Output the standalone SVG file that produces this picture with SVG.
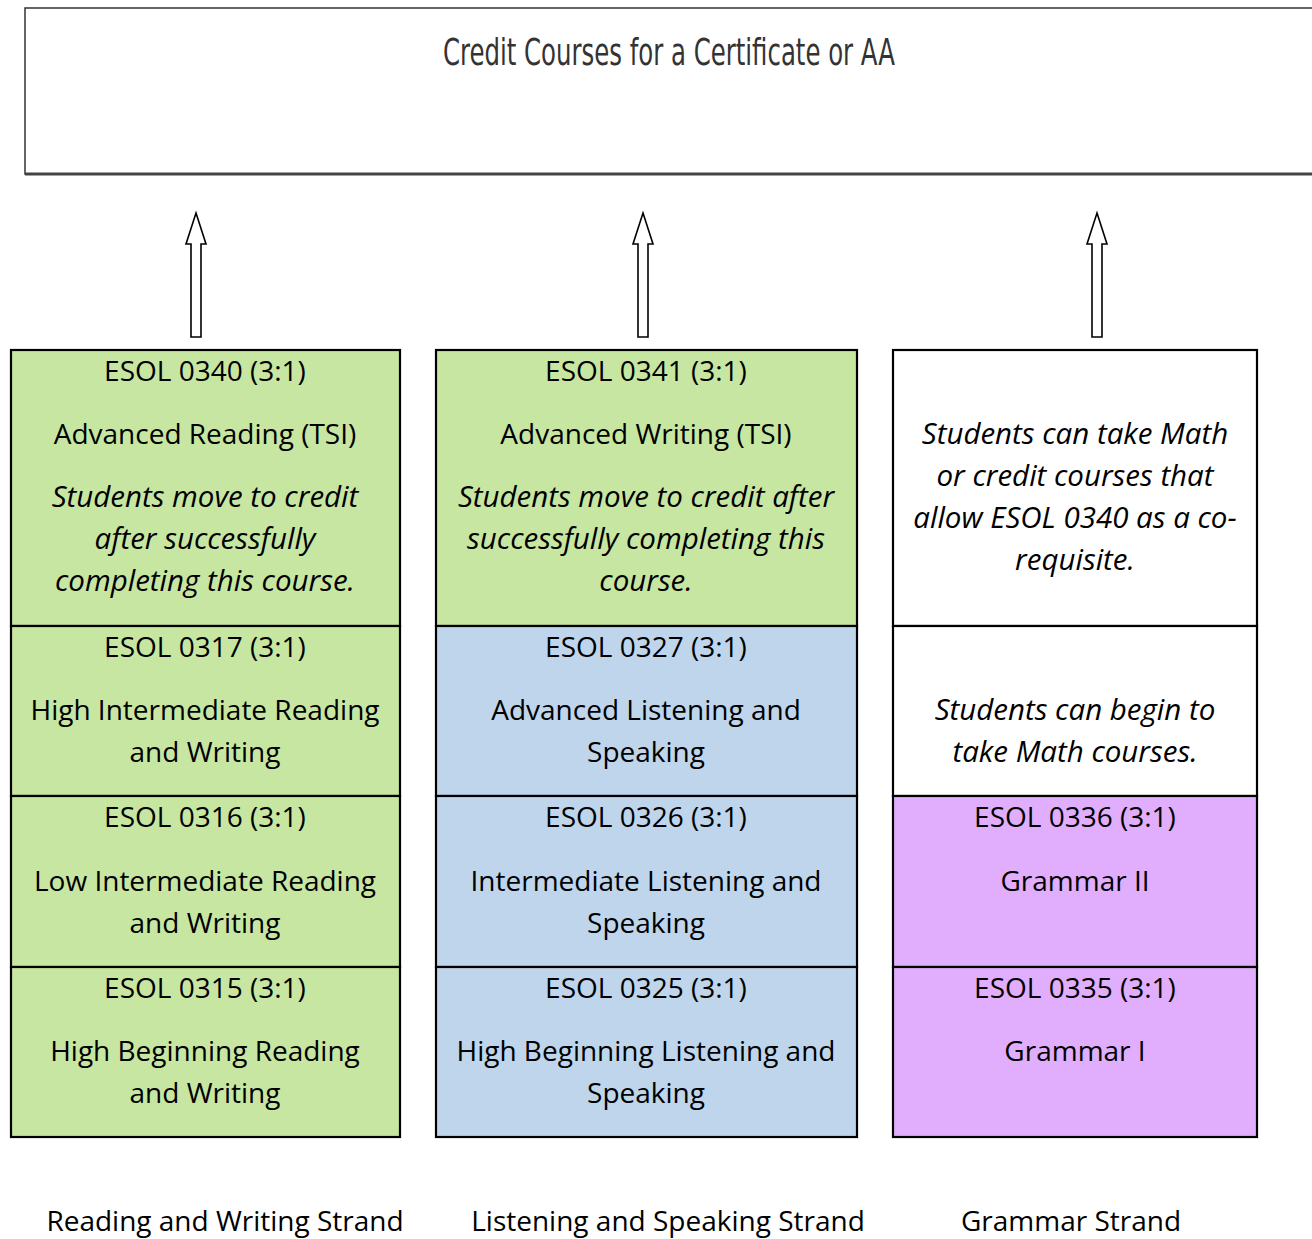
<svg xmlns="http://www.w3.org/2000/svg" width="1312" height="1239" viewBox="0 0 1312 1239">
<style>
.box{stroke:#000;stroke-width:2.2}
.g{fill:#c7e6a2}.b{fill:#bed5ec}.p{fill:#e0aefc}.w{fill:#fff}
text{font-family:"Open Sans","Noto Sans",sans-serif;font-size:28px;fill:#000;text-anchor:middle}
.i{font-style:italic;font-size:29.5px}
.arr{fill:#fff;stroke:#000;stroke-width:1.6}
</style>
<rect width="1312" height="1239" fill="#fff"/>
<g id="credit">
<rect x="25" y="8" width="1290" height="166" fill="#fff" stroke="#333" stroke-width="1.5"/>
<line x1="25" y1="174" x2="1312" y2="174" stroke="#444" stroke-width="3"/>
<text x="669" y="65" style="font-family:'DejaVu Sans Condensed','DejaVu Sans',sans-serif;font-size:38px;fill:#333" textLength="452" lengthAdjust="spacingAndGlyphs">Credit Courses for a Certificate or AA</text>
</g>
<g id="connectors">
<path class="arr" d="M196,213 L206,244 L201,244 L201,337 L191,337 L191,244 L186,244 Z"/>
<path class="arr" d="M643,213 L653,244 L648,244 L648,337 L638,337 L638,244 L633,244 Z"/>
<path class="arr" d="M1097,213 L1107,244 L1102,244 L1102,337 L1092,337 L1092,244 L1087,244 Z"/>
</g>
<g id="esol0340">
<rect class="box g" x="11" y="350" width="389" height="276"/>
<text x="205" y="381">ESOL 0340 (3:1)</text>
<text x="205" y="444">Advanced Reading (TSI)</text>
<text class="i" x="205" y="507">Students move to credit</text>
<text class="i" x="205" y="549">after successfully</text>
<text class="i" x="205" y="591">completing this course.</text>
</g>
<g id="esol0317">
<rect class="box g" x="11" y="626" width="389" height="170"/>
<text x="205" y="657">ESOL 0317 (3:1)</text>
<text x="205" y="720">High Intermediate Reading</text>
<text x="205" y="762">and Writing</text>
</g>
<g id="esol0316">
<rect class="box g" x="11" y="796" width="389" height="171"/>
<text x="205" y="827">ESOL 0316 (3:1)</text>
<text x="205" y="891">Low Intermediate Reading</text>
<text x="205" y="933">and Writing</text>
</g>
<g id="esol0315">
<rect class="box g" x="11" y="967" width="389" height="170"/>
<text x="205" y="998">ESOL 0315 (3:1)</text>
<text x="205" y="1061">High Beginning Reading</text>
<text x="205" y="1103">and Writing</text>
</g>
<g id="esol0341">
<rect class="box g" x="436" y="350" width="421" height="276"/>
<text x="646" y="381">ESOL 0341 (3:1)</text>
<text x="646" y="444">Advanced Writing (TSI)</text>
<text class="i" x="646" y="507">Students move to credit after</text>
<text class="i" x="646" y="549">successfully completing this</text>
<text class="i" x="646" y="591">course.</text>
</g>
<g id="esol0327">
<rect class="box b" x="436" y="626" width="421" height="170"/>
<text x="646" y="657">ESOL 0327 (3:1)</text>
<text x="646" y="720">Advanced Listening and</text>
<text x="646" y="762">Speaking</text>
</g>
<g id="esol0326">
<rect class="box b" x="436" y="796" width="421" height="171"/>
<text x="646" y="827">ESOL 0326 (3:1)</text>
<text x="646" y="891">Intermediate Listening and</text>
<text x="646" y="933">Speaking</text>
</g>
<g id="esol0325">
<rect class="box b" x="436" y="967" width="421" height="170"/>
<text x="646" y="998">ESOL 0325 (3:1)</text>
<text x="646" y="1061">High Beginning Listening and</text>
<text x="646" y="1103">Speaking</text>
</g>
<g id="mathcredit">
<rect class="box w" x="893" y="350" width="364" height="276"/>
<text class="i" x="1075" y="444">Students can take Math</text>
<text class="i" x="1075" y="486">or credit courses that</text>
<text class="i" x="1075" y="528">allow ESOL 0340 as a co-</text>
<text class="i" x="1075" y="570">requisite.</text>
</g>
<g id="math">
<rect class="box w" x="893" y="626" width="364" height="170"/>
<text class="i" x="1075" y="720">Students can begin to</text>
<text class="i" x="1075" y="762">take Math courses.</text>
</g>
<g id="esol0336">
<rect class="box p" x="893" y="796" width="364" height="171"/>
<text x="1075" y="827">ESOL 0336 (3:1)</text>
<text x="1075" y="891">Grammar II</text>
</g>
<g id="esol0335">
<rect class="box p" x="893" y="967" width="364" height="170"/>
<text x="1075" y="998">ESOL 0335 (3:1)</text>
<text x="1075" y="1061">Grammar I</text>
</g>
<g id="labels">
<text x="225" y="1231">Reading and Writing Strand</text>
<text x="668" y="1231">Listening and Speaking Strand</text>
<text x="1071" y="1231">Grammar Strand</text>
</g>
</svg>
